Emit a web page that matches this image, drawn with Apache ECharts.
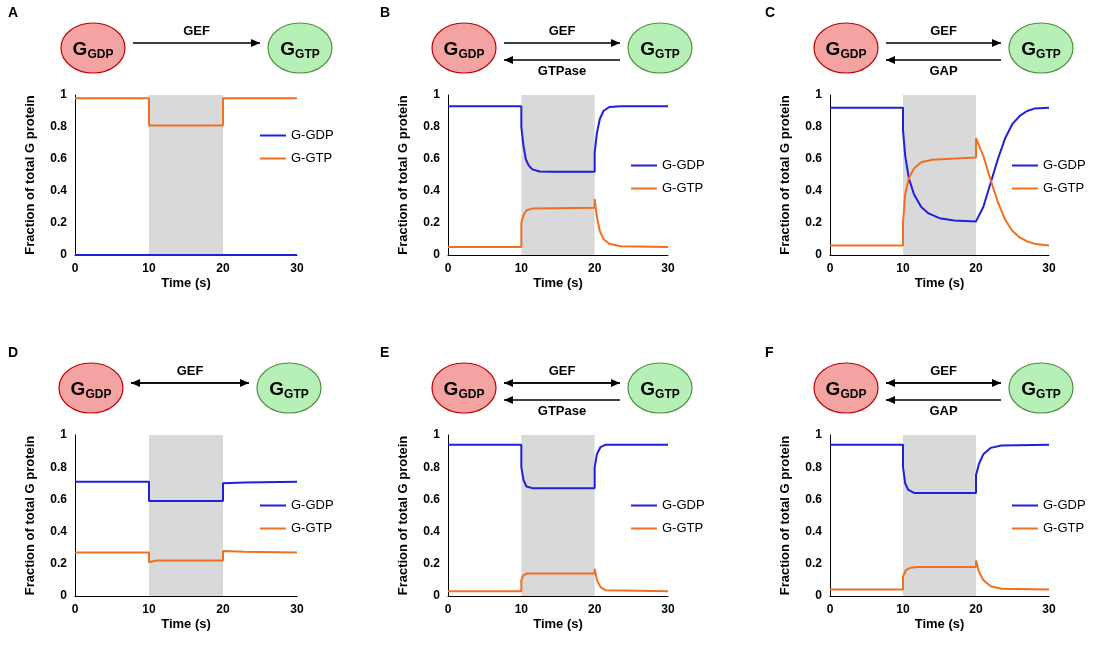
<!DOCTYPE html><html><head><meta charset="utf-8"><script src="https://cdn.jsdelivr.net/npm/echarts@6/dist/echarts.min.js"></script>
<style>body{margin:0}#c{width:1100px;height:645px}</style></head><body><div id="c"></div><script>
const xTicks=[0,10,20,30];
const yTicks=[0,0.2,0.4,0.6,0.8,1];
const letters=['A','B','C','D','E','F'];
const reverseLabels=['', 'GTPase','GAP','', 'GTPase','GAP'];
const doubleArrow=[false,false,false,true,true,true];
const gdpA=[[0,0],[30,0]];
const gtpA=[[0,0.98],[10,0.98],[10,0.81],[20,0.81],[20,0.98],[30,0.98]];
const gdpB=[[0,0.93],[10,0.93],[10,0.8],[10.3,0.68],[10.6,0.6],[11,0.56],[11.5,0.535],[12.5,0.522],[14,0.52],[20,0.52],[20,0.64],[20.3,0.76],[20.7,0.85],[21.2,0.9],[22,0.925],[23.5,0.93],[30,0.93]];
const gtpB=[[0,0.05],[10,0.05],[10,0.2],[10.3,0.25],[10.7,0.28],[11.5,0.29],[20,0.295],[20,0.35],[20.3,0.24],[20.7,0.15],[21.2,0.1],[22,0.07],[23.5,0.055],[30,0.05]];
const gdpC=[[0,0.92],[10,0.92],[10,0.78],[10.3,0.62],[10.8,0.48],[11.5,0.38],[12.5,0.3],[13.5,0.26],[15,0.23],[17,0.215],[20,0.21],[21,0.3],[22,0.45],[23,0.6],[24,0.73],[25,0.82],[26,0.87],[27,0.9],[28,0.915],[30,0.92]];
const gtpC=[[0,0.06],[10,0.06],[10,0.2],[10.3,0.38],[10.8,0.48],[11.5,0.54],[12.5,0.58],[14,0.595],[16,0.6],[20,0.61],[20,0.73],[21,0.62],[22,0.47],[23,0.33],[24,0.22],[25,0.15],[26,0.11],[27,0.085],[28,0.07],[30,0.06]];
const gdpD=[[0,0.71],[10,0.71],[10,0.59],[20,0.59],[20,0.7],[23,0.705],[30,0.71]];
const gtpD=[[0,0.27],[10,0.27],[10,0.21],[11,0.22],[20,0.22],[20,0.28],[23,0.275],[30,0.27]];
const gdpE=[[0,0.94],[10,0.94],[10,0.8],[10.3,0.72],[10.7,0.68],[11.5,0.67],[20,0.67],[20,0.8],[20.3,0.88],[20.8,0.925],[21.5,0.94],[30,0.94]];
const gtpE=[[0,0.03],[10,0.03],[10,0.1],[10.3,0.13],[10.8,0.14],[20,0.14],[20,0.17],[20.3,0.1],[20.8,0.055],[21.5,0.035],[30,0.03]];
const gdpF=[[0,0.94],[10,0.94],[10,0.8],[10.3,0.7],[10.7,0.66],[11.5,0.64],[20,0.64],[20,0.75],[20.4,0.82],[21,0.88],[22,0.92],[23.5,0.935],[30,0.94]];
const gtpF=[[0,0.04],[10,0.04],[10,0.12],[10.4,0.16],[11,0.175],[12,0.18],[20,0.18],[20,0.22],[20.4,0.15],[21,0.1],[22,0.06],[23.5,0.045],[30,0.04]];
const gdp=[gdpA,gdpB,gdpC,gdpD,gdpE,gdpF], gtp=[gtpA,gtpB,gtpC,gtpD,gtpE,gtpF];
const band=[10,20];

const cols=[[75,297],[448,668],[830,1049]];
const rows=[[95,255],[435,596]];
const grids=[],xA=[],yA=[],series=[],legends=[],graphic=[];
const bold='bold 13px Arial';
for(let i=0;i<6;i++){
  const c=cols[i%3], r=rows[Math.floor(i/3)];
  grids.push({left:c[0],width:c[1]-c[0],top:r[0],height:r[1]-r[0]});
  xA.push({type:'value',gridIndex:i,min:0,max:30,interval:10,name:'Time (s)',nameLocation:'middle',nameGap:22,
    nameTextStyle:{fontWeight:'bold',fontSize:13,fontFamily:'Arial',color:'#000'},
    axisLine:{lineStyle:{color:'#000'}},axisTick:{show:false},splitLine:{show:false},
    axisLabel:{color:'#000',fontSize:12,fontWeight:'bold',fontFamily:'Arial'}});
  yA.push({type:'value',gridIndex:i,min:0,max:1,interval:0.2,name:'Fraction of total G protein',nameLocation:'middle',nameGap:38,
    nameTextStyle:{fontWeight:'bold',fontSize:13,fontFamily:'Arial',color:'#000'},
    axisLine:{show:true,lineStyle:{color:'#000'}},axisTick:{show:false},splitLine:{show:false},
    axisLabel:{color:'#000',fontSize:12,fontWeight:'bold',fontFamily:'Arial',formatter:v=>String(+v.toFixed(1))}});
  series.push({type:'line',name:'G-GDP',xAxisIndex:i,yAxisIndex:i,data:gdp[i],showSymbol:false,lineStyle:{color:'#1f1fdc',width:2},itemStyle:{color:'#1f1fdc'},z:3,
    markArea:{silent:true,itemStyle:{color:'#d9d9d9'},data:[[{xAxis:band[0]},{xAxis:band[1]}]]}});
  series.push({type:'line',name:'G-GTP',xAxisIndex:i,yAxisIndex:i,data:gtp[i],showSymbol:false,lineStyle:{color:'#f07020',width:2},itemStyle:{color:'#f07020'},z:4});
  legends.push({orient:'vertical',left:c[1]-42,top:r[0]+(i==0?29:59),itemGap:10,icon:'rect',itemWidth:26,itemHeight:2,
    data:['G-GDP','G-GTP'],textStyle:{fontSize:13,fontFamily:'Arial',color:'#000'},selectedMode:false});
  const cy=(i<3?48:388);
  const gx1=c[0]+(i==0?18:16), gx2=(i==0?300:c[1]-8);
  graphic.push({type:'text',left:(i%3==0?8:(i%3==1?380:765)),top:cy-42,style:{text:letters[i],font:'bold 14px Arial',fill:'#000'}});
  const circ=(x,fill,stroke,sub)=>{
    graphic.push({type:'ellipse',shape:{cx:x,cy:cy,rx:32,ry:25},style:{fill:fill,stroke:stroke,lineWidth:1.2}});
    graphic.push({type:'text',x:x,y:cy+2,style:{text:'{g|G}{s|'+sub+'}',align:'center',verticalAlign:'middle',rich:{g:{font:'bold 19px Arial',fill:'#000'},s:{font:'bold 12px Arial',fill:'#000',padding:[10,0,0,0]}}}});
  };
  circ(gx1,'#f4a3a3','#c00000','GDP');circ(gx2,'#b7f0b7','#4f8f3f','GTP');
  const a1=gx1+40,a2=gx2-40;
  const ay=cy-5;
  const arrow=(x1,x2,y)=>{
    graphic.push({type:'line',shape:{x1:x1,y1:y,x2:x2,y2:y},style:{stroke:'#000',lineWidth:1.5}});
    const d=x2>x1?-1:1;
    graphic.push({type:'polygon',shape:{points:[[x2,y],[x2+d*9,y-4],[x2+d*9,y+4]]},style:{fill:'#000'}});
  };
  arrow(a1,a2,ay);
  if(doubleArrow[i]) arrow(a2,a1,ay);
  graphic.push({type:'text',x:(a1+a2)/2,y:ay-5,style:{text:'GEF',align:'center',verticalAlign:'bottom',font:bold,fill:'#000'}});
  if(reverseLabels[i]){
    arrow(a2,a1,cy+12);
    graphic.push({type:'text',x:(a1+a2)/2,y:cy+17,style:{text:reverseLabels[i],align:'center',verticalAlign:'top',font:bold,fill:'#000'}});
  }
}
const ch=echarts.init(document.getElementById('c'));
ch.setOption({backgroundColor:'#fff',animation:false,grid:grids,xAxis:xA,yAxis:yA,series:series,legend:legends,graphic:graphic});
</script></body></html>
